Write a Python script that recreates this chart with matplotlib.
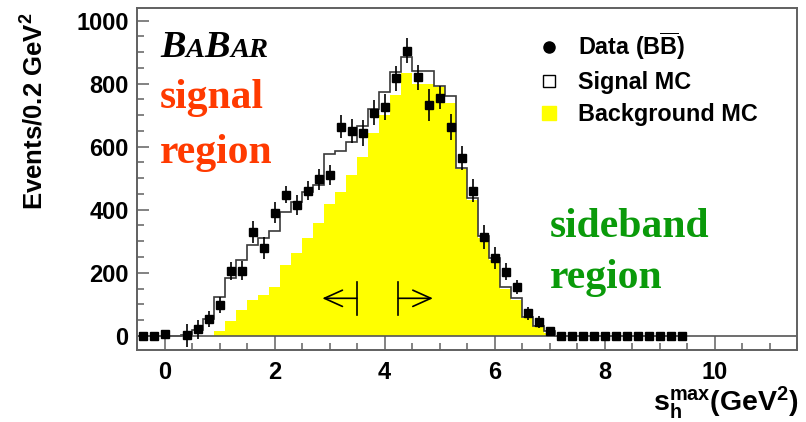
import numpy as np
import matplotlib
matplotlib.use("Agg")
import matplotlib.pyplot as plt
from matplotlib.lines import Line2D

# ---- histogram data (bins of 0.2 GeV^2, first bin centred at -0.4) ----
bin_width = 0.2
first_center = -0.4

data_counts = [0, 0, 5, np.nan, 2, 21, 53, 98, 206, 206,
               330, 278, 391, 448, 414, 461, 496, 511, 663, 649,
               644, 708, 726, 817, 904, 820, 733, 755, 663, 563,
               460, 314, 247, 203, 155, 72, 45, 15, 0, 0,
               0, 0, 0, 0, 0, 0, 0, 0, 0, 0]
data_errors = [0, 0, 4, np.nan, 36, 30, 25, 25, 28, 30,
               35, 35, 32, 28, 32, 30, 32, 32, 37, 38,
               42, 40, 42, 40, 40, 40, 50, 37, 42, 38,
               36, 37, 34, 27, 21, 21, 19, 8, 0, 0,
               0, 0, 0, 0, 0, 0, 0, 0, 0, 0]

# signal MC (drawn as outline, stacked on background)
signal_mc = [0, 0, 0, 0, 3, 19, 53, 122, 182, 240,
             288, 310, 333, 393, 425, 455, 477, 577, 585, 615,
             667, 720, 773, 836, 884, 840, 840, 794, 760, 532,
             436, 318, 247, 155, 119, 61, 32, 14, 0, 0,
             0, 0, 0, 0, 0, 0, 0, 0, 0, 0]
# background MC (yellow filled)
background_mc = [0, 0, 0, 0, 0, 0, 0, 14, 47, 81,
                 114, 130, 156, 226, 262, 311, 357, 418, 457, 510,
                 566, 645, 700, 764, 833, 800, 800, 790, 740, 530,
                 432, 310, 240, 150, 114, 55, 28, 10, 0, 0,
                 0, 0, 0, 0, 0, 0, 0, 0, 0, 0]

x_ticks = [0, 2, 4, 6, 8, 10]
y_ticks = [0, 200, 400, 600, 800, 1000]

signal_cut = 3.5
sideband_cut = 4.25

# ---- figure ----
W, H = 806, 422
plt.rcParams["font.family"] = ["Liberation Sans", "DejaVu Sans"]
plt.rcParams["font.weight"] = "bold"
plt.rcParams["mathtext.fontset"] = "custom"
plt.rcParams["mathtext.rm"] = "Liberation Sans:bold"
plt.rcParams["mathtext.bf"] = "Liberation Sans:bold"
plt.rcParams["mathtext.it"] = "Liberation Sans:bold"

fig = plt.figure(figsize=(W / 100, H / 100), dpi=100)
ax = fig.add_axes([137 / W, 1 - 350 / H, (797 - 137) / W, (350 - 8) / H])

n = len(data_counts)
centers = first_center + bin_width * np.arange(n)
edges = np.append(centers - bin_width / 2, centers[-1] + bin_width / 2)

ax.stairs(background_mc, edges, fill=True, color="#FFFF00", lw=0, zorder=1)
ax.stairs(signal_mc, edges, color="#3a3a3a", lw=1.2, zorder=2)
ax.axhline(0, color="#555555", lw=1.2, zorder=2.5)
ax.errorbar(centers, data_counts, yerr=data_errors, fmt="s", color="black",
            ms=5.5, elinewidth=1.2, capsize=0, zorder=3)

# cut arrows
arrow_y = 119
bar_lo, bar_hi = 66, 172
arrow_len = 0.63
for cut, direction in ((signal_cut, -1), (sideband_cut, 1)):
    ax.plot([cut, cut], [bar_lo, bar_hi], color="black", lw=1.2, zorder=4)
    ax.annotate("", xy=(cut + direction * arrow_len, arrow_y), xytext=(cut, arrow_y),
                arrowprops=dict(arrowstyle="->,head_length=1.0,head_width=0.45",
                                mutation_scale=13, lw=1.2, color="black",
                                shrinkA=0, shrinkB=0), zorder=4)

ax.set_xlim(-0.5, 11.5)
ax.set_ylim(-45, 1040)
ax.set_xticks(x_ticks)
ax.set_yticks(y_ticks)
ax.set_xticks(np.arange(-0.5, 11.51, 0.5), minor=True)
ax.set_yticks(np.arange(0, 1001, 50), minor=True)
ax.tick_params(axis="both", which="both", direction="in", colors="#606060",
               labelcolor="black", labelsize=17, top=False, right=False)
ax.tick_params(axis="y", which="major", length=8.5, width=1.1, pad=6)
ax.tick_params(axis="y", which="minor", length=5, width=1.1)
ax.tick_params(axis="x", which="major", length=10, width=1.1, pad=8)
ax.tick_params(axis="x", which="minor", length=5, width=1.1)
for s in ax.spines.values():
    s.set_color("#606060")
    s.set_linewidth(1.4)

# axis titles
fig.text(35 / W, 1 - 111.5 / H, r"Events/0.2 GeV$^{2}$", rotation=90,
         ha="center", va="center", fontsize=18.5, fontweight="bold")
fig.text(799 / W, 1 - 411 / H, r"$\mathrm{s}_{\mathrm{h}}^{\mathrm{max}}$(GeV$^{2}$)",
         ha="right", va="baseline", fontsize=20.5, fontweight="bold")

# legend
handles = [
    Line2D([], [], ls="none", marker="o", ms=8, mfc="black", mec="black"),
    Line2D([], [], ls="none", marker="s", ms=9, mfc="white", mec="black", mew=1.0),
    Line2D([], [], ls="none", marker="s", ms=10, mfc="#FFFF00", mec="#FFFF00"),
]
labels = [r"Data (B$\overline{\mathrm{B}}$)", "Signal MC", "Background MC"]
fig.legend(handles, labels, loc="upper left",
           bbox_to_anchor=(537 / W, 1 - 30 / H), bbox_transform=fig.transFigure,
           frameon=False, fontsize=16.8, handlelength=1.0, handletextpad=0.75,
           labelspacing=0.4, borderpad=0, borderaxespad=0)

# region labels
serif = ["Liberation Serif", "DejaVu Serif"]
fig.text(160 / W, 1 - 108 / H, "signal", color="#FF3A00", fontsize=30,
         family=serif, fontweight="bold", va="baseline")
fig.text(160 / W, 1 - 163 / H, "region", color="#FF3A00", fontsize=30,
         family=serif, fontweight="bold", va="baseline")
fig.text(550 / W, 1 - 237 / H, "sideband", color="#0A9A0A", fontsize=30,
         family=serif, fontweight="bold", va="baseline")
fig.text(550 / W, 1 - 288 / H, "region", color="#0A9A0A", fontsize=30,
         family=serif, fontweight="bold", va="baseline")

# experiment logo with small capitals
renderer = fig.canvas.get_renderer()
x_px = 160
for piece, size in (("B", 27.5), ("A", 20.5), ("B", 27.5), ("AR", 20.5)):
    t = fig.text(x_px / W, 1 - 57 / H, piece, fontsize=size, family=serif,
                 style="italic", fontweight="bold", va="baseline", ha="left")
    x_px += t.get_window_extent(renderer).width

fig.savefig("out.png", dpi=100)
